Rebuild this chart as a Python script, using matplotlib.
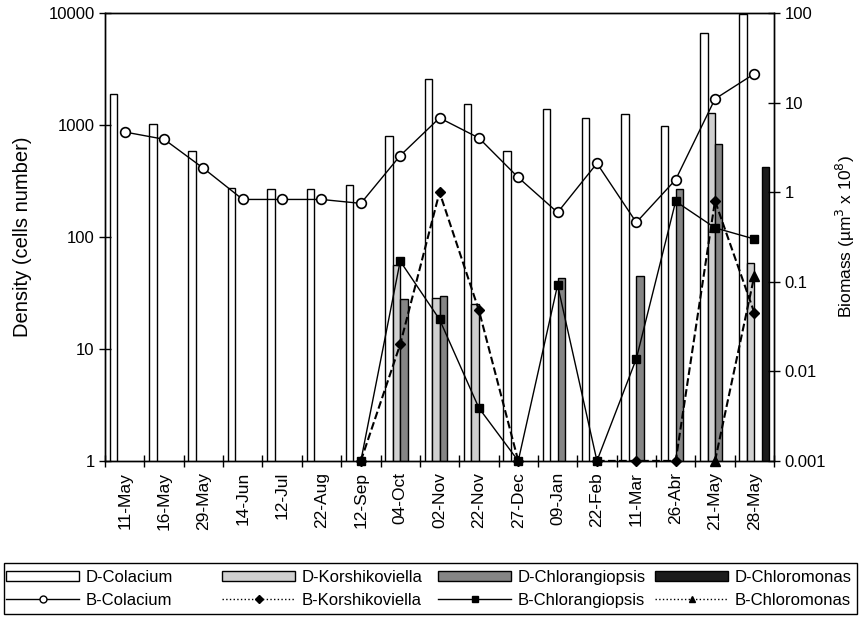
import numpy as np
import matplotlib
matplotlib.use('Agg')
import matplotlib.pyplot as plt
from matplotlib.patches import Patch, Rectangle
from matplotlib.lines import Line2D
from matplotlib.ticker import FixedLocator, FuncFormatter, NullLocator

plt.rcParams['font.family'] = ['Liberation Sans', 'DejaVu Sans']
plt.rcParams['font.size'] = 12

nan = np.nan
dates = ['11-May', '16-May', '29-May', '14-Jun', '12-Jul', '22-Aug', '12-Sep', '04-Oct',
         '02-Nov', '22-Nov', '27-Dec', '09-Jan', '22-Feb', '11-Mar', '26-Abr', '21-May', '28-May']

# density (cells number), left axis
d_colacium = [1890, 1020, 590, 276, 267, 267, 291, 803, 2590, 1550, 590, 1390, 1160, 1260, 986, 6670, 9800]
d_korsh = [nan, nan, nan, nan, nan, nan, nan, 56, 28.4, 25, nan, nan, nan, nan, nan, 1290, 58]
d_chlorang = [nan, nan, nan, nan, nan, nan, nan, 27.8, 29.5, nan, nan, 43.3, nan, 44.6, 268, 672, nan]
d_chlorom = [nan, nan, nan, nan, nan, nan, nan, nan, nan, nan, nan, nan, nan, nan, nan, nan, 419]

# biomass (um3 x 10^8), right axis
b_colacium = [4.7, 3.9, 1.85, 0.83, 0.83, 0.83, 0.75, 2.56, 6.75, 4.03, 1.46, 0.594, 2.1, 0.46, 1.38, 11, 21]
b_korsh = [nan, nan, nan, nan, nan, nan, 0.001, 0.02, 1.0, 0.048, 0.001, nan, 0.001, 0.001, 0.001, 0.80, 0.045]
b_chlorang = [nan, nan, nan, nan, nan, nan, 0.001, 0.17, 0.038, 0.0039, 0.001, 0.092, 0.001, 0.0138, 0.79, 0.40, 0.30]
b_chlorom = [nan, nan, nan, nan, nan, nan, nan, nan, nan, nan, nan, nan, nan, nan, nan, 0.001, 0.117]

x = np.arange(len(dates))
w = 0.19

fig = plt.figure(figsize=(8.61, 6.22), dpi=100)
ax = fig.add_axes([0.122, 0.259, 0.777, 0.72])

ax.bar(x - 1.5 * w, d_colacium, w, color='white', edgecolor='black', linewidth=1)
ax.bar(x - 0.5 * w, d_korsh, w, color='#d0d0d0', edgecolor='black', linewidth=1)
ax.bar(x + 0.5 * w, d_chlorang, w, color='#858585', edgecolor='black', linewidth=1)
ax.bar(x + 1.5 * w, d_chlorom, w, color='#1c1c1c', edgecolor='black', linewidth=1)

ax.set_yscale('log')
ax.set_ylim(1, 10000)
ax.set_xlim(-0.5, len(dates) - 0.5)
ax.yaxis.set_major_locator(FixedLocator([1, 10, 100, 1000, 10000]))
ax.yaxis.set_minor_locator(NullLocator())
ax.yaxis.set_major_formatter(FuncFormatter(lambda v, p: '%g' % v))
ax.set_ylabel('Density (cells number)', fontsize=14.5, labelpad=12)

ax.set_xticks(np.arange(-0.5, len(dates), 1.0))
ax.set_xticklabels([])
ax.set_xticks(x, minor=True)
ax.set_xticklabels(dates, minor=True, rotation=90, fontsize=12.5)
ax.tick_params(axis='x', which='major', direction='inout', length=8, width=1)
ax.tick_params(axis='x', which='minor', length=0, pad=8)
ax.tick_params(axis='y', direction='inout', length=8, width=1, labelsize=12)

ax2 = ax.twinx()
ax2.set_yscale('log')
ax2.set_ylim(0.001, 100)
ax2.yaxis.set_major_locator(FixedLocator([0.001, 0.01, 0.1, 1, 10, 100]))
ax2.yaxis.set_minor_locator(NullLocator())
ax2.yaxis.set_major_formatter(FuncFormatter(lambda v, p: '%g' % v))
ax2.tick_params(axis='y', direction='inout', length=8, width=1, labelsize=12)
ax2.set_ylabel('Biomass (\u00b5m$^3$ x 10$^8$)', fontsize=12.5, labelpad=6)

ax2.plot(x, b_colacium, '-', color='black', lw=1, marker='o', ms=7,
         mfc='white', mec='black', mew=1.2, clip_on=False)
ax2.plot(x, b_korsh, '--', color='black', lw=1.5, marker='D', ms=5.5,
         mfc='black', mec='black', clip_on=False)
ax2.plot(x, b_chlorang, '-', color='black', lw=1, marker='s', ms=6,
         mfc='black', mec='black', clip_on=False)
ax2.plot(x, b_chlorom, '--', color='black', lw=1.5, marker='^', ms=6.5,
         mfc='black', mec='black', clip_on=False)

for a in (ax, ax2):
    for s in a.spines.values():
        s.set_linewidth(1)

# legend: four equal columns inside one box
handles = [
    Patch(facecolor='white', edgecolor='black'),
    Line2D([], [], color='black', lw=1, marker='o', ms=5, mfc='white', mec='black'),
    Patch(facecolor='#d0d0d0', edgecolor='black'),
    Line2D([], [], color='black', lw=1, ls=':', marker='D', ms=4, mfc='black'),
    Patch(facecolor='#858585', edgecolor='black'),
    Line2D([], [], color='black', lw=1, marker='s', ms=4, mfc='black'),
    Patch(facecolor='#1c1c1c', edgecolor='black'),
    Line2D([], [], color='black', lw=1, ls=':', marker='^', ms=4.5, mfc='black'),
]
labels = ['D-Colacium', 'B-Colacium', 'D-Korshikoviella', 'B-Korshikoviella',
          'D-Chlorangiopsis', 'B-Chlorangiopsis', 'D-Chloromonas', 'B-Chloromonas']
col_x = [6, 222, 438, 655]
for i, cx in enumerate(col_x):
    fig.legend(handles[2 * i:2 * i + 2], labels[2 * i:2 * i + 2], loc='center left',
               bbox_to_anchor=(cx / 861, 1 - 589 / 622), frameon=False,
               borderpad=0, borderaxespad=0, handlelength=4.4, handleheight=0.55,
               handletextpad=0.35, labelspacing=0.45, fontsize=12)
fig.add_artist(Rectangle((4 / 861, 1 - 614 / 622), 853 / 861, 51 / 622,
                         transform=fig.transFigure, fill=False, edgecolor='black', lw=1))

fig.savefig('out.png', dpi=100)
